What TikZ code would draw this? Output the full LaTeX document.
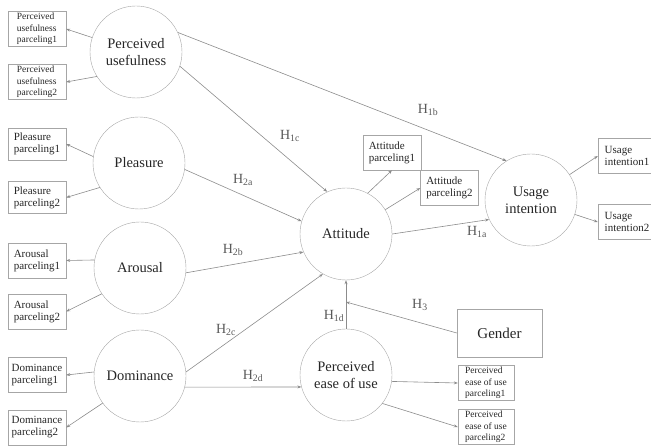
\documentclass[tikz,border=0pt]{standalone}
\usepackage{fontspec}
\setmainfont{Liberation Serif}
\usetikzlibrary{arrows.meta}

\begin{document}
\begin{tikzpicture}[x=1pt, y=1pt,
      latent/.style={circle, draw=black!35, minimum size=92pt, inner sep=1pt,
        align=center, text=black!85, font=\fontsize{14.5}{17}\selectfont},
      item/.style={draw=black!35, align=left, inner sep=1pt, text=black!85,
        minimum width=58pt, minimum height=35pt,
        font=\fontsize{11}{12}\selectfont},
      smallitem/.style={item, font=\fontsize{9.5}{11.5}\selectfont},
      hyp/.style={text=black!65, font=\fontsize{14}{16}\selectfont, inner sep=0pt},
      path/.style={draw=black!45, line width=0.6pt, -{Stealth[length=4pt,width=3pt]}}
    ]
    \useasboundingbox (0,0) rectangle (651,-446);

    % latent constructs
    \node[latent] (pu)   at (136,-52)  {Perceived\\usefulness};
    \node[latent] (pl)   at (139,-163) {Pleasure};
    \node[latent] (ar)   at (140,-268) {Arousal};
    \node[latent] (dom)  at (140,-376) {Dominance};
    \node[latent] (att)  at (346,-234) {Attitude};
    \node[latent] (ui)   at (531,-200) {Usage\\intention};
    \node[latent] (peou) at (346,-375) {Perceived\\ease of use};
    \node[draw=black!35, minimum width=85pt, minimum height=48pt, text=black!85,
      font=\fontsize{15}{17}\selectfont] (gen) at (499.5,-333) {Gender};

    % measurement items
    \node[smallitem] (pu1) at (37,-29)  {Perceived\\usefulness\\parceling1};
    \node[smallitem] (pu2) at (37,-82)  {Perceived\\usefulness\\parceling2};
    \node[item, minimum height=32pt] (pl1) at (37,-144)   {Pleasure\\parceling1};
    \node[item, minimum height=32pt] (pl2) at (37,-197.5) {Pleasure\\parceling2};
    \node[item] (ar1)  at (37,-260.5) {Arousal\\parceling1};
    \node[item] (ar2)  at (37,-311.5) {Arousal\\parceling2};
    \node[item] (dom1) at (37,-375)   {Dominance\\parceling1};
    \node[item] (dom2) at (37,-427.5) {Dominance\\parceling2};
    \node[item] (att1) at (392,-152.5)  {Attitude\\parceling1};
    \node[item] (att2) at (449.5,-188)  {Attitude\\parceling2};
    \node[item] (ui1)  at (627,-156)  {Usage\\intention1};
    \node[item] (ui2)  at (627,-222)  {Usage\\intention2};
    \node[smallitem, minimum width=56pt] (pe1) at (486,-383) {Perceived\\ease of use\\parceling1};
    \node[smallitem, minimum width=56pt] (pe2) at (486,-427) {Perceived\\ease of use\\parceling2};

    \draw[path] (pu) -- (pu1.east);
    \draw[path] (pu.212) -- (pu2.east);
    \draw[path] (pl.172) -- (pl1.east);
    \draw[path] (pl.212) -- (pl2.east);
    \draw[path] (ar.170) -- (ar1.east);
    \draw[path] (ar.214) -- (ar2.east);
    \draw[path] (dom.175) -- (dom1.east);
    \draw[path] (dom.216) -- (dom2.east);
    \draw[path] (att.62) -- (att1.south);
    \draw[path] (att) -- (att2.west);
    \draw[path] (ui) -- (ui1.west);
    \draw[path] (ui) -- (ui2.west);
    \draw[path] (peou.-8) -- (pe1.west);
    \draw[path] (peou.-38) -- (pe2.west);

    % structural paths
    \draw[path] (pu.25) -- (ui.122);
    \draw[path] (pu.-18) -- (att.114);
    \draw[path] (pl.-8) -- (att.164);
    \draw[path] (ar.-6) -- (att.203);
    \draw[path] (dom.5) -- (att.240);
    \draw[path] (dom.-14) -- (peou.195);
    \draw[path] (att.east) -- (ui.205);
    \draw[path] (peou) -- (att);
    \coordinate (mod) at (346,-302);
    \draw[path] (gen.west) -- (mod);

    \node[hyp] (h1b) at (428,-110) {H\textsubscript{1b}};
    \node[hyp] (h1c) at (290,-136) {H\textsubscript{1c}};
    \node[hyp] (h2a) at (243,-180) {H\textsubscript{2a}};
    \node[hyp] (h2b) at (233,-250) {H\textsubscript{2b}};
    \node[hyp] (h2c) at (226,-330) {H\textsubscript{2c}};
    \node[hyp] (h2d) at (253,-376) {H\textsubscript{2d}};
    \node[hyp] (h1d) at (334,-316) {H\textsubscript{1d}};
    \node[hyp] (h3)  at (420,-305) {H\textsubscript{3}};
    \node[hyp] (h1a) at (477,-232) {H\textsubscript{1a}};
  \end{tikzpicture}
\end{document}
